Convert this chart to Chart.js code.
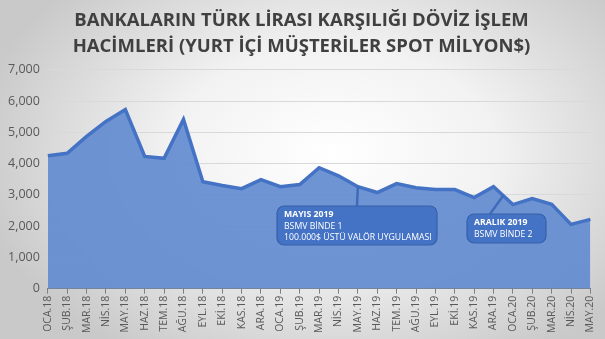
<!DOCTYPE html>
<html><head><meta charset="utf-8">
<script src="https://cdn.jsdelivr.net/npm/chart.js@4/dist/chart.umd.min.js"></script>
<style>
html,body{margin:0;padding:0;}
#wrap{width:605px;height:339px;background:radial-gradient(ellipse 60% 70% at 55% 45%, #ffffff 0%, #f2f2f2 45%, #c9c9c9 100%);}
</style></head>
<body><div id="wrap"><canvas id="c" width="605" height="339"></canvas></div>
<script>
const titleLines = ["BANKALARIN TÜRK LİRASI KARŞILIĞI DÖVİZ İŞLEM", "HACİMLERİ (YURT İÇİ MÜŞTERİLER SPOT MİLYON$)"];
const categories = ["OCA.18","ŞUB.18","MAR.18","NİS.18","MAY.18","HAZ.18","TEM.18","AĞU.18","EYL.18","EKİ.18","KAS.18","ARA.18",
 "OCA.19","ŞUB.19","MAR.19","NİS.19","MAY.19","HAZ.19","TEM.19","AĞU.19","EYL.19","EKİ.19","KAS.19","ARA.19",
 "OCA.20","ŞUB.20","MAR.20","NİS.20","MAY.20"];
const volumes = [4250,4330,4870,5350,5730,4230,4170,5410,3420,3300,3200,3490,
 3260,3330,3870,3610,3260,3075,3360,3225,3170,3170,2915,3260,
 2690,2880,2700,2055,2215];
const annotations = [
 {lines:["MAYIS 2019","BSMV BİNDE 1","100.000$ ÜSTÜ VALÖR UYGULAMASI"], index:16},
 {lines:["ARALIK 2019","BSMV BİNDE 2"], index:23.5}
];

const annPlugin = {
 id:'ann',
 afterDatasetsDraw(chart){
  const ctx = chart.ctx, xs = chart.scales.x, ys = chart.scales.y;
  const boxes = [
   {x:277,y:206,w:160,h:39},
   {x:467,y:214,w:79,h:29}
  ];
  annotations.forEach((a,i)=>{
   const b = boxes[i];
   const i0 = Math.floor(a.index), f = a.index - i0;
   const v = f ? volumes[i0]*(1-f)+volumes[i0+1]*f : volumes[i0];
   const px = xs.getPixelForValue(a.index), py = ys.getPixelForValue(v);
   ctx.save();
   ctx.strokeStyle = '#3f6cb8'; ctx.lineWidth = 2.5;
   ctx.beginPath(); ctx.moveTo(px,py); ctx.lineTo(i===0?b.x+80:b.x+23,b.y); ctx.stroke();
   ctx.beginPath();
   ctx.roundRect(b.x,b.y,b.w,b.h,7);
   ctx.fillStyle = '#4472c4'; ctx.fill();
   ctx.strokeStyle = '#3660a8'; ctx.lineWidth = 1.2; ctx.stroke();
   ctx.fillStyle = '#ffffff'; ctx.textBaseline = 'middle';
   a.lines.forEach((t,k)=>{
     ctx.font = (k===0?'bold ':'') + '8.7px "Open Sans"';
     ctx.fillText(t, b.x+7, b.y+9+k*11.5);
   });
   ctx.restore();
  });
 }
};

new Chart(document.getElementById('c'), {
 type:'line',
 data:{labels:categories, datasets:[{
   data:volumes, fill:'origin', backgroundColor:'rgba(100,140,209,0.93)', borderColor:'#4472c4',
   borderWidth:3.5, pointRadius:0, tension:0
 }]},
 options:{
  responsive:false, animation:false,
  layout:{padding:{left:0,right:2,top:0,bottom:4}},
  plugins:{legend:{display:false}, tooltip:{enabled:false},
   title:{display:true, text:titleLines, color:'#404040', font:{family:'Open Sans', size:18.5, weight:'bold', lineHeight:1.4}, padding:{top:8,bottom:10}}},
  scales:{
   x:{offset:false, grid:{display:true, drawOnChartArea:false, tickLength:5, color:'#7f7f7f'},
      border:{display:true, color:'#7f7f7f'},
      ticks:{color:'#595959', font:{family:'Open Sans', size:10.5}, maxRotation:90, minRotation:90, autoSkip:false, padding:2}},
   y:{min:0, max:7000, ticks:{stepSize:1000, color:'#595959', font:{family:'Open Sans', size:12.5}, padding:8,
      callback:v=>v.toLocaleString('en-US')},
      grid:{color:'#d9d9d9', drawTicks:false}, border:{display:false}}
  }
 },
 plugins:[annPlugin]
});
</script></body></html>
